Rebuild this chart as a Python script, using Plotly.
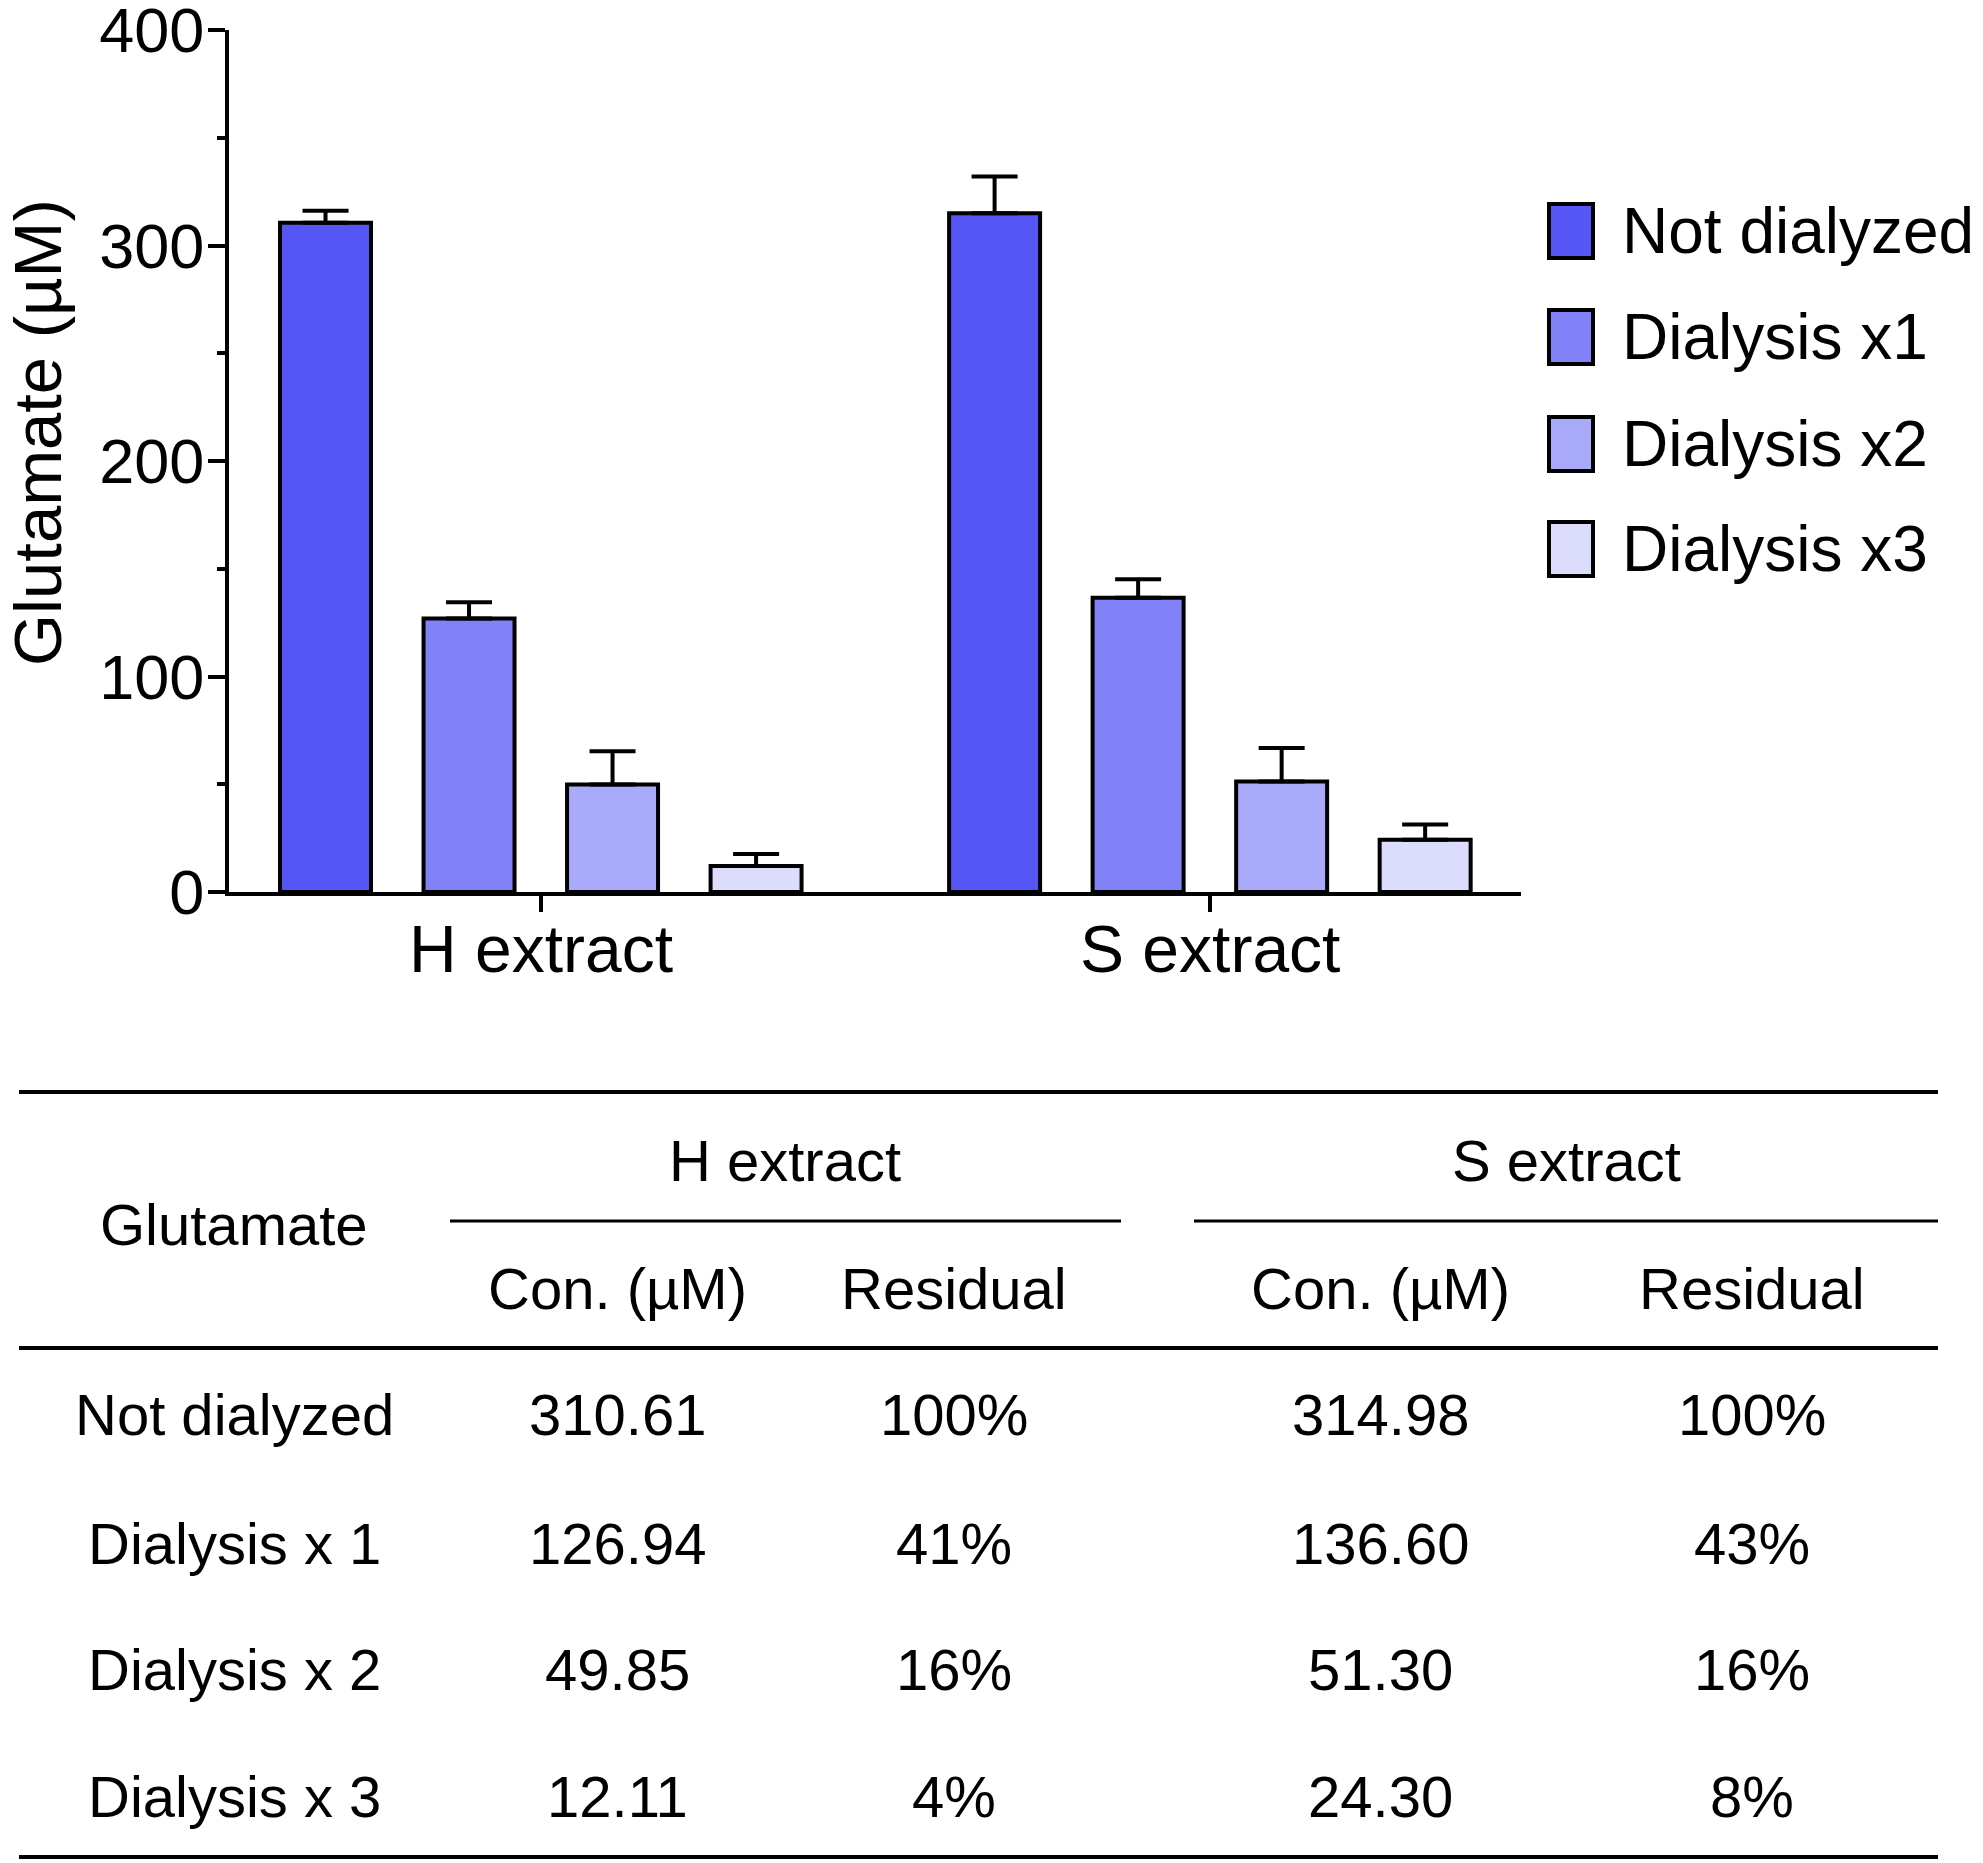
import plotly.graph_objects as go

W, H = 1983, 1863
FONT = "Liberation Sans, Arial, sans-serif"

# data
categories = ["H extract", "S extract"]
series_names = ["Not dialyzed", "Dialysis x1", "Dialysis x2", "Dialysis x3"]
series_colors = ["#5656F6", "#8181F8", "#AAAAFB", "#DCDCFC"]
h_values = [310.61, 126.94, 49.85, 12.11]
s_values = [314.98, 136.60, 51.30, 24.30]
h_errors = [5.5, 7.5, 15.5, 5.5]
s_errors = [17.0, 8.5, 15.5, 7.0]

table_row_labels = ["Not dialyzed", "Dialysis x 1", "Dialysis x 2", "Dialysis x 3"]
h_residual = ["100%", "41%", "16%", "4%"]
s_residual = ["100%", "43%", "16%", "8%"]


def px_x(x):
    return x / W


def px_y(y):
    return 1 - y / H


fig = go.Figure()

for i, name in enumerate(series_names):
    fig.add_trace(
        go.Bar(
            x=categories,
            y=[h_values[i], s_values[i]],
            name=name,
            marker=dict(color=series_colors[i], line=dict(color="black", width=4)),
            error_y=dict(
                type="data",
                symmetric=False,
                array=[h_errors[i], s_errors[i]],
                arrayminus=[0, 0],
                color="black",
                thickness=4,
                width=23,
            ),
            showlegend=False,
        )
    )

shapes = []
annotations = []

# legend drawn by hand so the swatches can be large
leg_y = [231, 337, 444, 549]
for i, name in enumerate(series_names):
    shapes.append(
        dict(
            type="rect", xref="paper", yref="paper",
            x0=px_x(1549), x1=px_x(1593),
            y0=px_y(leg_y[i] - 27), y1=px_y(leg_y[i] + 27),
            fillcolor=series_colors[i], line=dict(color="black", width=4),
        )
    )
    annotations.append(
        dict(
            text=name, xref="paper", yref="paper",
            x=px_x(1620), y=px_y(leg_y[i]), xanchor="left", yanchor="middle",
            showarrow=False, font=dict(size=64, color="black", family=FONT),
        )
    )

# category labels under the x axis
for cat in categories:
    annotations.append(
        dict(
            text=cat, xref="x", yref="paper", x=cat, y=px_y(949),
            xanchor="center", yanchor="middle", showarrow=False,
            font=dict(size=66, color="black", family=FONT),
        )
    )

# y axis title
annotations.append(
    dict(
        text="Glutamate (µM)", xref="paper", yref="paper",
        x=px_x(37), y=px_y(433), textangle=-90,
        xanchor="center", yanchor="middle", showarrow=False,
        font=dict(size=67, color="black", family=FONT),
    )
)

# ---- table below the chart ----
TF = dict(size=58, color="black", family=FONT)


def hline(x0, x1, y, w):
    shapes.append(
        dict(
            type="line", xref="paper", yref="paper",
            x0=px_x(x0), x1=px_x(x1), y0=px_y(y), y1=px_y(y),
            line=dict(color="black", width=w),
        )
    )


def cell(text, x, y):
    annotations.append(
        dict(
            text=text, xref="paper", yref="paper", x=px_x(x), y=px_y(y),
            xanchor="center", yanchor="middle", showarrow=False, font=TF,
        )
    )


hline(19, 1938, 1092, 4)
hline(450, 1121, 1221, 3)
hline(1194, 1938, 1221, 3)
hline(19, 1938, 1348, 4)
hline(19, 1938, 1857, 4)

cell("Glutamate", 234, 1224)
cell(categories[0], 785, 1160)
cell(categories[1], 1566, 1160)
col_x = [617, 954, 1380, 1752]
for cx, label in zip(col_x, ["Con. (µM)", "Residual", "Con. (µM)", "Residual"]):
    cell(label, cx, 1288)

row_y = [1414, 1543, 1669, 1796]
for i, label in enumerate(table_row_labels):
    cell(label, 234, row_y[i])
    cell(f"{h_values[i]:.2f}", col_x[0], row_y[i])
    cell(h_residual[i], col_x[1], row_y[i])
    cell(f"{s_values[i]:.2f}", col_x[2], row_y[i])
    cell(s_residual[i], col_x[3], row_y[i])

fig.update_layout(
    template="none",
    width=W,
    height=H,
    margin=dict(l=0, r=0, t=0, b=0, pad=0, autoexpand=False),
    paper_bgcolor="white",
    plot_bgcolor="white",
    barmode="group",
    bargap=0.142,
    bargroupgap=0.366,
    font=dict(family=FONT, color="black"),
    shapes=shapes,
    annotations=annotations,
    xaxis=dict(
        domain=[px_x(229), px_x(1521)],
        range=[-0.466, 1.465],
        automargin=False,
        showline=True,
        linecolor="black",
        linewidth=4,
        ticks="outside",
        ticklen=16,
        tickwidth=4,
        tickcolor="black",
        showticklabels=False,
        showgrid=False,
        zeroline=False,
        anchor="y",
    ),
    yaxis=dict(
        domain=[px_y(892), px_y(30)],
        range=[0, 400],
        automargin=False,
        tickvals=[0, 100, 200, 300, 400],
        showline=True,
        linecolor="black",
        linewidth=4,
        ticks="outside",
        ticklen=17,
        tickwidth=4,
        tickcolor="black",
        tickfont=dict(size=63, color="black", family=FONT),
        ticklabelstandoff=-9,
        ticklabeloverflow="allow",
        minor=dict(tickvals=[50, 150, 250, 350], ticks="outside", ticklen=8,
                   tickwidth=4, tickcolor="black", showgrid=False),
        showgrid=False,
        zeroline=False,
        anchor="x",
    ),
)

# the page body keeps an 8px margin by default; drop it so the figure fills the window
fig.write_html(
    "out.html",
    config={"displayModeBar": False},
    post_script="document.body.style.margin='0';document.body.style.overflow='hidden';",
)
